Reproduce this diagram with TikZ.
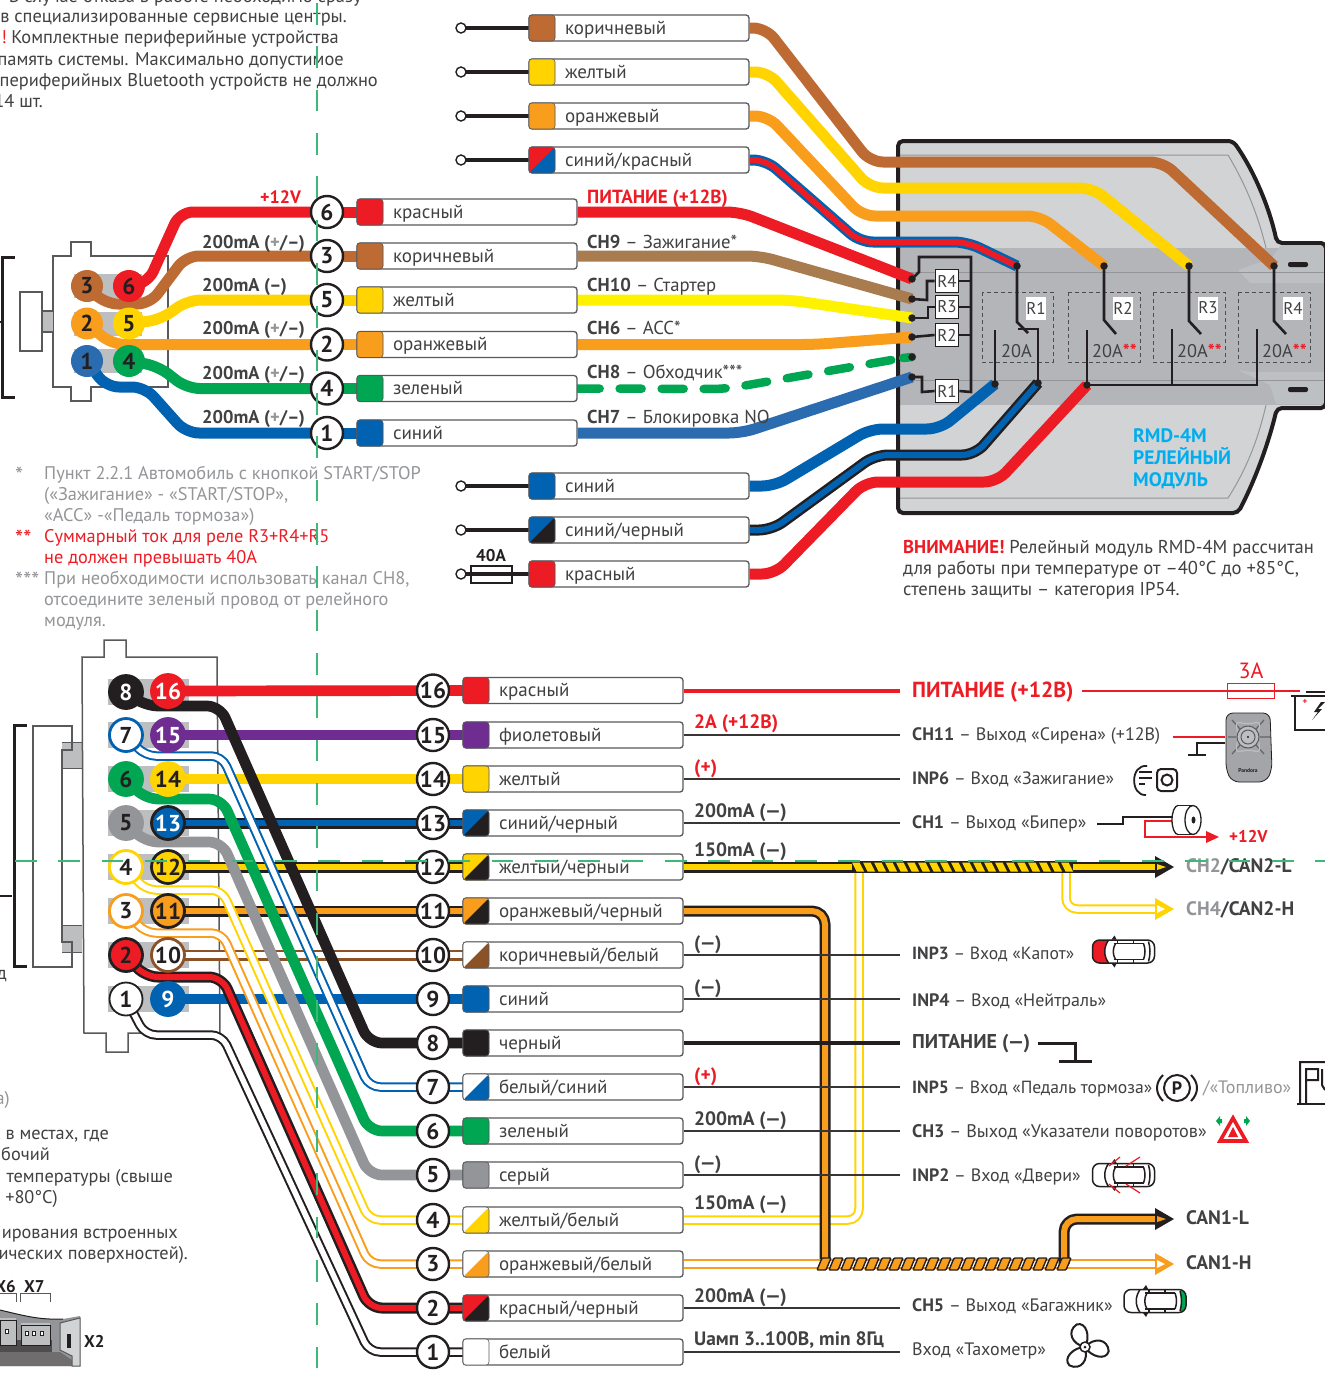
\documentclass[tikz,border=0pt]{standalone}
\usepackage{fontspec}
\setmainfont{PT Sans}
\usetikzlibrary{calc}
\pgfdeclarelayer{bg}\pgfdeclarelayer{wires}\pgfsetlayers{bg,wires,main}
\definecolor{cRed}{HTML}{ED1C24}\definecolor{cBrown}{HTML}{BD6A33}\definecolor{cYel}{HTML}{FFD400}
\definecolor{cOr}{HTML}{F99D1C}\definecolor{cBlue}{HTML}{0062B1}\definecolor{cGreen}{HTML}{00A651}
\definecolor{cPur}{HTML}{6F2C91}\definecolor{cGray}{HTML}{939598}\definecolor{cBlack}{HTML}{231F20}
\definecolor{cTan}{HTML}{A97C50}\definecolor{cBY}{HTML}{FFF200}\definecolor{cBlueL}{HTML}{2B6CB0}
\definecolor{cCyan}{HTML}{00AEEF}\definecolor{cBr}{HTML}{8B5228}\definecolor{cText}{HTML}{414042}
\definecolor{cEdge}{HTML}{58595B}\definecolor{cBody}{HTML}{D1D3D4}\definecolor{cBand}{HTML}{B3B5B8}
\definecolor{cPad}{HTML}{BCBEC0}\definecolor{cDash}{HTML}{3CB878}\definecolor{cWhite}{HTML}{FFFFFF}
\tikzset{
 x=1pt,y=-1pt,
 txt/.style={inner sep=0,font=\fontsize{18.3}{20}\selectfont,text=cText},
 bld/.style={font=\fontsize{#1}{20}\selectfont\bfseries},
 numc/.style={circle,draw=cBlack,fill=white,line width=2.4pt,minimum size=32pt,inner sep=0,font=\fontsize{23}{23}\selectfont\bfseries,text=cBlack},
 pinc/.style n args={3}{circle,draw=#2,fill=#1,text=#3,line width=2.8pt,minimum size=33pt,inner sep=0,font=\fontsize{23}{23}\selectfont\bfseries},
 smallpin/.style={minimum size=30pt,line width=2pt},
 lbox/.style={rectangle,rounded corners=3pt,draw=cEdge,fill=white,line width=1.3pt,minimum height=26pt,text width=220pt,inner xsep=0,inner ysep=0,align=flush left,text height=13pt,text depth=1pt,font=\fontsize{19}{20}\selectfont,text=cText},
 pad/.style 2 args={rectangle,rounded corners=3pt,draw=cEdge,line width=.6pt,fill=#1,minimum size=26pt,inner sep=0,path picture={\fill[#2] (path picture bounding box.south west)--(path picture bounding box.south east)--(path picture bounding box.north east)--cycle;}},
 w/.style={line width=10.7pt,draw=#1,rounded corners=13pt,line join=round},
 wn/.style={line width=11pt,draw=#1,rounded corners=13pt,line join=round},
 wd/.style 2 args={draw=#1,double=#2,line width=2.5pt,double distance=6pt,rounded corners=13pt,line join=round},
 wt/.style 2 args={draw=#1,double=#2,line width=2pt,double distance=5.5pt,rounded corners=11pt,line join=round},
 fine/.style={line width=2.6pt,draw=cBlack},
 dotn/.style={circle,fill=cBlack,minimum size=7.5pt,inner sep=0},
 rbox/.style={rectangle,draw=cBlack,fill=white,line width=1.8pt,minimum width=23pt,minimum height=23pt,inner sep=0,font=\fontsize{17}{17}\selectfont,text=cText},
 rtag/.style={rectangle,fill=white,minimum width=17pt,minimum height=23pt,inner sep=0,font=\fontsize{17}{17}\selectfont,text=cText},
 opn/.style={circle,draw=cBlack,fill=white,line width=1.4pt,minimum size=10pt,inner sep=0},
}
\newcommand\lbl[5][]{\node[txt,anchor=base west,#1] (#2) at ([yshift=-6pt]#3,#4) {#5};}
\newcommand\rbl[5][]{\node[txt,anchor=base east,#1] (#2) at ([yshift=-6pt]#3,#4) {#5};}
\newcommand\caricon[4]{\begin{scope}[shift={(#1,#2)},line width=1.5pt,draw=cBlack]
 \begin{scope}\clip[rounded corners=7pt] (-31,-11.5) rectangle (31,11.5);
  \fill[white] (-32,-12) rectangle (32,12);
  \fill[#3] (-32,-12) -- (-15,-12) .. controls (-20,-4) and (-20,4) .. (-15,12) -- (-32,12) -- cycle;
  \fill[#4] (25,-12) .. controls (27,-3) and (27,3) .. (25,12) -- (32,12) -- (32,-12) -- cycle;
 \end{scope}
 \draw[rounded corners=7pt] (-31,-11.5) rectangle (31,11.5);
 \draw (-15,-11.5) .. controls (-20,-4) and (-20,4) .. (-15,11.5);
 \draw (-10,-8) -- (20,-8) (-10,8) -- (20,8);
 \draw (-6,-11.5) -- (-6,-8) (-6,8) -- (-6,11.5) (10,-11.5) -- (10,-8) (10,8) -- (10,11.5);
 \draw (-8,-8) .. controls (-11,-3) and (-11,3) .. (-8,8);
 \draw (20,-8) .. controls (22,-3) and (22,3) .. (20,8);
 \draw (25,-10) .. controls (27,-3) and (27,3) .. (25,10);
 \fill[cBlack] (-12,-12)--(-9,-16)--(-7,-12)--cycle (-12,12)--(-9,16)--(-7,12)--cycle;
\end{scope}}
\begin{document}
\begin{tikzpicture}
\useasboundingbox (0,0) rectangle (1325,1379);
\clip (0,0) rectangle (1325,1379);
% ===== relay module body
\newcommand\modpath{[rounded corners=5pt] (898,141)--(1233,141) .. controls (1255,172) and (1270,210) .. (1277,243)--(1326,243)--(1326,408)--(1277,408) .. controls (1268,445) and (1255,480) .. (1238,513)--(898,513)--cycle}
\begin{pgfonlayer}{bg}
\fill[white] (0,0) rectangle (1325,1379);
\fill[cBody] \modpath;
\begin{scope}\clip \modpath;
 \fill[cBand] (898,248) rectangle (1330,405);
 \fill[cBody!35!cBand] (1238,270)--(1272,258)--(1280,246)--(1330,246)--(1330,283)--(1250,283)--cycle;
 \fill[cBody!35!cBand] (1238,370)--(1250,372)--(1330,372)--(1330,404)--(1276,404)--(1270,385)--cycle;
 \draw[cGray,line width=1pt] (898,155)--(1228,155) .. controls (1246,185) and (1258,215) .. (1266,248);
 \draw[cGray,line width=1pt] (898,498)--(1228,498) .. controls (1246,470) and (1258,440) .. (1266,405);
 \draw[cGray,line width=1pt] (905,272)--(1325,272);
 \draw[cGray,line width=1pt] (905,380)--(1325,380);
\end{scope}
\draw[cBlack,line width=4pt] \modpath;
\fill[cBlack,rounded corners=2pt] (1288,262) rectangle (1308,267) (1288,387) rectangle (1308,392);
\foreach \a/\b in {982/1053,1068/1140,1153/1225,1238/1310}
 \draw[cBlack!80,line width=1pt,dash pattern=on 4pt off 3pt] (\a,292) rectangle (\b,362);
% connector housings, under the wires
\foreach \py in {286,323.5,361}{\fill[cPad] (74,\py-12) rectangle (142,\py+12);}
\foreach \py in {692,735,779,823,867,911,955,999}{\fill[cPad] (108,\py-13) rectangle (189,\py+13);}
\fill[cPad] (62,742) rectangle (82,768) (62,925) rectangle (82,952);
\draw[cEdge,line width=1pt] (62,742)--(82,742) (62,768)--(82,768) (62,925)--(82,925) (62,952)--(82,952);
\draw[cEdge,line width=1.5pt] (53,256)--(71,256)--(71,242)--(91,242)--(91,256)--(168,256)--(168,387)--(91,387)--(91,401)--(71,401)--(71,387)--(53,387)--cycle;
\draw[cEdge,line width=1.5pt] (217,657)--(126,657)--(126,640)--(104,640)--(104,657)--(82,657)--(84,1033)--(106,1033)--(106,1052)--(128,1052)--(128,1033)--(220,1033)--cycle;
\end{pgfonlayer}
% ===== top connector
\draw[cBlack,line width=3pt] (15,257)--(2,257)--(2,397)--(15,397);
\draw[cBlack,line width=2pt] (0,322)--(2,322);
\fill[cPad] (42,311) rectangle (53,332);
\draw[cEdge,line width=1.3pt] (42,311)--(53,311) (42,332)--(53,332);
\draw[cEdge,line width=1.5pt] (20,292) rectangle (42,351);
\node[pinc={cBrown}{cBrown}{cBlack},smallpin] (p3) at (87,286) {3};
\node[pinc={cRed}{cRed}{cBlack},smallpin] (p6) at (129,286) {6};
\node[pinc={cOr}{cOr}{cBlack},smallpin] (p2) at (87,323.5) {2};
\node[pinc={cYel}{cYel}{cBlack},smallpin] (p5) at (129,323.5) {5};
\node[pinc={cBlueL}{cBlueL}{cBlack},smallpin] (p1) at (87,361) {1};
\node[pinc={cGreen}{cGreen}{cBlack},smallpin] (p4) at (129,361) {4};
\foreach \n/\y/\tx/\ca in {6/212/красный/cRed,3/256/коричневый/cBrown,5/300/желтый/cYel,2/344.5/оранжевый/cOr,4/388.5/зеленый/cGreen,1/433/синий/cBlue}{
 \node[numc] (n\n) at (327,\y) {\n};
 \node[lbox] (l\n) at (467,\y) {\hspace*{36pt}\tx};
 \node[pad={\ca}{\ca}] (q\n) at (370,\y) {};
}
\foreach \k/\y/\tx/\ca/\cb in {a/28/коричневый/cBrown/cBrown,b/72/желтый/cYel/cYel,c/116/оранжевый/cOr/cOr,d/160/{синий/красный}/cRed/cBlue,e/486/синий/cBlue/cBlue,f/530/{синий/черный}/cBlue/cBlack,g/574/красный/cRed/cRed}{
 \node[lbox] (m\k) at (639,\y) {\hspace*{36pt}\tx};
 \node[pad={\ca}{\cb}] (r\k) at (542,\y) {};
 \node[opn] (o\k) at (461,\y) {};
}
\node[dotn] (t1) at (912,279) {};\node[dotn] (t2) at (912,299) {};\node[dotn] (t3) at (912,318) {};
\node[dotn] (t4) at (912,337) {};\node[dotn] (t5) at (912,357) {};\node[dotn] (t6) at (912,377) {};
\node[dotn] (c1) at (1017,266) {};\node[dotn] (c2) at (1104,266) {};\node[dotn] (c3) at (1189,266) {};\node[dotn] (c4) at (1274,266) {};
\node[dotn] (d1) at (995,384) {};\node[dotn] (d2) at (1038,383) {};\node[dotn] (d3) at (1087,385) {};
\coordinate (bj) at (1172,385);\coordinate (bk) at (1257,385);\coordinate (gs) at (903,358);
\node[rbox] (R4) at (947,281) {R4};\node[rbox] (R3) at (947,307) {R3};\node[rbox] (R2) at (947,335) {R2};\node[rbox] (R1) at (947,391) {R1};
\begin{pgfonlayer}{wires}
\draw[wn=cRed] (n6.center)--(q6.center);\draw[wn=cBrown] (n3.center)--(q3.center);\draw[wn=cYel] (n5.center)--(q5.center);
\draw[wn=cOr] (n2.center)--(q2.center);\draw[wn=cGreen] (n4.center)--(q4.center);\draw[wn=cBlue] (n1.center)--(q1.center);
\draw[wn=cRed] (p6.center)--(148,283)--(180,212)--(n6.center);
\draw[wn=cOr] (p2.center)--(112,344.5)--(n2.center);
\draw[wn=cBrown] (p3.center)--(105,304)--(150,304)--(186,256)--(n3.center);
\draw[wn=cYel] (p5.center)--(160,320)--(188,300)--(n5.center);
\draw[wn=cGreen] (p4.center)--(158,366)--(187,388.5)--(n4.center);
\draw[wn=cBlue] (p1.center)--(106,387)--(145,387)--(186,433)--(n1.center);
\draw[wn=cRed] (l6.east)--(740,212)--(t1.center);
\draw[wn=cTan] (l3.east)--(760,256)--(t2.center);
\draw[wn=cBY] (l5.east)--(790,300)--(t3.center);
\draw[wn=cOr] (l2.east)--(815,344.5)--(t4.center);
\draw[line width=8.5pt,cGreen,rounded corners=13pt,line cap=round,dash pattern=on 22pt off 20pt] (l4.east)--(725,389)--(gs);
\draw[line width=8.5pt,cGreen,line cap=round] (gs)--(t5.center);
\draw[wn=cBlueL] (l1.east)--(742,433)--(t6.center);
\draw[wn=cBrown] (ma.east)--(766,28)--(870,162)--(1163,162)--(c4.center);
\draw[wn=cYel] (mb.east)--(768,72)--(870,188)--(1093,188)--(c3.center);
\draw[wn=cOr] (mc.east)--(768,116)--(862,216)--(1040,216)--(c2.center);
\draw[wd={cBlue}{cRed}] (md.east)--(766,160)--(860,242)--(967,242)--(c1.center);
\draw[wn=cBlue] (me.east)--(775,486)--(870,429)--(940,429)--(d1.center);
\draw[wd={cBlack}{cBlue}] (mf.east)--(772,530)--(875,455)--(975,455)--(d2.center);
\draw[wn=cRed] (mg.east)--(775,574)--(865,482)--(997,482)--(d3.center);
\foreach \k in {a,b,c,d,e,f,g}{\draw[line width=4pt,cBlack] (o\k.center)--(r\k.center);}
\end{pgfonlayer}
% relay internal wiring
\draw[fine,line join=miter] (t1.center)--(919,272)--(919,257)--(971,257)--(971,392)--(R1.east);
\draw[fine] (R4.east)--(971,281) (R3.east)--(971,307) (R2.east)--(971,335);
\draw[fine] (t2.center)--(927,300)--(927,281)--(R4.west);
\draw[fine] (t3.center)--(928,318)--(928,307)--(R3.west);
\draw[fine] (t4.center)--(R2.west);
\draw[fine] (t6.center)--(922,377)--(922,392)--(R1.west);
\draw[fine] (c1.center)--(1017,322)--(1028,333);
\draw[fine] (1018,329)--(1038,329)--(d2.center);
\draw[fine] (995,330)--(d1.center);
\draw[fine] (c2.center)--(1104,320)--(1116,334);
\draw[fine] (c3.center)--(1189,321)--(1201,334);
\draw[fine] (c4.center)--(1274,321)--(1286,334);
\draw[fine] (1087,330)--(d3.center)--(bk)--(1257,329);
\draw[fine] (1172,329)--(bj);
\node[rtag] (T1) at (1036,308) {R1};\node[rtag] (T2) at (1123,308) {R2};\node[rtag] (T3) at (1208,308) {R3};\node[rtag] (T4) at (1293,308) {R4};
\lbl{A1}{1001}{351}{20A}
\lbl{A2}{1092}{351}{20A\textcolor{cRed}{\textbf{**}}}
\lbl{A3}{1177}{351}{20A\textcolor{cRed}{\textbf{**}}}
\lbl{A4}{1262}{351}{20A\textcolor{cRed}{\textbf{**}}}
\lbl[bld=19.5,text=cCyan]{M1}{1133}{436}{RMD-4M}
\lbl[bld=19.5,text=cCyan]{M2}{1133}{458}{РЕЛЕЙНЫЙ}
\lbl[bld=19.5,text=cCyan]{M3}{1133}{480}{МОДУЛЬ}
\lbl[font=\fontsize{18.6}{20}\selectfont]{W1}{903}{547}{\textcolor{cRed}{\textbf{ВНИМАНИЕ!}} Релейный модуль RMD-4M рассчитан}
\lbl[font=\fontsize{18.6}{20}\selectfont]{W2}{903}{568}{для работы при температуре от –40°С до +85°С,}
\lbl[font=\fontsize{18.6}{20}\selectfont]{W3}{903}{589}{степень защиты – категория IP54.}
\node[rectangle,draw=cBlack,line width=2pt,fill=none,minimum width=41pt,minimum height=17pt,inner sep=0] (f40) at (491,574) {};
\lbl[bld=17,text=cBlack,anchor=base]{f40t}{491}{555}{40A}
\lbl[bld=18,text=cRed]{L6}{260}{197}{+12V}
\foreach \k/\y/\tx in {3/242/{(\textcolor{cGray}{+}/–)},5/285/{(–)},2/328/{(\textcolor{cGray}{+}/–)},4/373/{(\textcolor{cGray}{+}/–)},1/417/{(\textcolor{cGray}{+}/–)}}{
 \lbl[bld=18.4]{LL\k}{202}{\y}{200mA \tx}
}
\lbl[bld=19,text=cRed]{C0}{587}{197}{ПИТАНИЕ (+12В)}
\lbl[font=\fontsize{18.7}{20}\selectfont]{C1}{587}{242}{\textbf{CH9} – Зажигание*}
\lbl[font=\fontsize{18.7}{20}\selectfont]{C2}{587}{285}{\textbf{CH10} – Стартер}
\lbl[font=\fontsize{18.7}{20}\selectfont]{C3}{587}{328}{\textbf{CH6} – ACC*}
\lbl[font=\fontsize{18.7}{20}\selectfont]{C4}{587}{372}{\textbf{CH8} – Обходчик***}
\lbl[font=\fontsize{18.7}{20}\selectfont]{C5}{587}{417}{\textbf{CH7} – Блокировка NO}
\rbl[font=\fontsize{18.4}{20}\selectfont]{a0}{362}{-4}{В случае отказа в работе необходимо сразу}
\rbl[font=\fontsize{18.4}{20}\selectfont]{a1}{347}{16}{в специализированные сервисные центры.}
\rbl[font=\fontsize{18.4}{20}\selectfont]{a2}{339}{37}{\textcolor{cRed}{!}\hspace{-.12em} Комплектные периферийные устройства}
\rbl[font=\fontsize{18.4}{20}\selectfont]{a3}{344}{59}{память системы. Максимально допустимое}
\rbl[font=\fontsize{18.4}{20}\selectfont]{a4}{378}{80}{периферийных Bluetooth устройств не должно}
\rbl[font=\fontsize{18.4}{20}\selectfont]{a5}{43}{101}{14 шт.}
\lbl[text=cGray,font=\fontsize{23}{20}\selectfont]{s1}{15}{477}{*}
\lbl[text=cGray]{b1}{44}{473}{Пункт 2.2.1 Автомобиль с кнопкой START/STOP}
\lbl[text=cGray]{b2}{44}{494}{(«Зажигание» - «START/STOP»,}
\lbl[text=cGray]{b3}{44}{515}{«АСС» -«Педаль тормоза»)}
\lbl[text=cRed,font=\fontsize{23}{20}\selectfont]{s2}{15}{540}{**}
\lbl[text=cRed]{b4}{44}{536}{Суммарный ток для реле R3+R4+R5}
\lbl[text=cRed]{b5}{44}{557}{не должен превышать 40А}
\lbl[text=cGray,font=\fontsize{23}{20}\selectfont]{s3}{15}{582}{***}
\lbl[text=cGray]{b6}{44}{578}{При необходимости использовать канал CH8,}
\lbl[text=cGray]{b7}{44}{599}{отсоедините зеленый провод от релейного}
\lbl[text=cGray]{b8}{44}{620}{модуля.}
% ===== bottom connector
\draw[cEdge,line width=1.5pt] (72,750)--(72,726)--(33,726)--(33,967)--(72,967)--(72,942)--(62,942)--(62,750)--cycle;
\draw[cBlack,line width=3pt] (27,725)--(14,725)--(14,966)--(27,966);
\draw[cBlack,line width=2pt] (0,896)--(12,896);
\rbl{dd}{7}{973}{д}
\node[pinc={cBlack}{cBlack}{white}] (P8) at (126,692) {8};
\node[pinc={cRed}{cRed}{white}] (P16) at (168,691) {16};
\node[pinc={white}{cBlue}{cBlack}] (P7) at (126,735) {7};
\node[pinc={cPur}{cPur}{white}] (P15) at (168,735) {15};
\node[pinc={cGreen}{cGreen}{cBlack}] (P6) at (126,779) {6};
\node[pinc={cYel}{cYel}{cBlack}] (P14) at (168,779) {14};
\node[pinc={cGray}{cGray}{cBlack}] (P5) at (126,823) {5};
\node[pinc={cBlue}{cBlack}{white}] (P13) at (168,823) {13};
\node[pinc={white}{cYel}{cBlack}] (P4) at (126,867) {4};
\node[pinc={cYel}{cBlack}{cBlack}] (P12) at (168,867) {12};
\node[pinc={white}{cOr}{cBlack}] (P3) at (126,911) {3};
\node[pinc={cOr}{cBlack}{cBlack}] (P11) at (168,911) {11};
\node[pinc={cRed}{cBlack}{cBlack}] (P2) at (126,955) {2};
\node[pinc={white}{cBr}{cBlack}] (P10) at (168,955) {10};
\node[pinc={white}{cBlack}{cBlack},line width=1.8pt] (P1) at (126,999) {1};
\node[pinc={cBlue}{cBlue}{white}] (P9) at (168,999) {9};
\foreach \n/\y/\tx/\ca/\cb in {16/690.5/красный/cRed/cRed,15/735/фиолетовый/cPur/cPur,14/779/желтый/cYel/cYel,13/823/{синий/черный}/cBlue/cBlack,12/867/{желтый/черный}/cYel/cBlack,11/911/{оранжевый/черный}/cOr/cBlack,10/955/{коричневый/белый}/white/cBr,9/999/синий/cBlue/cBlue,8/1043/черный/cBlack/cBlack,7/1087/{белый/синий}/white/cBlue,6/1131/зеленый/cGreen/cGreen,5/1175/серый/cGray/cGray,4/1220/{желтый/белый}/white/cYel,3/1264/{оранжевый/белый}/white/cOr,2/1308/{красный/черный}/cRed/cBlack,1/1352/белый/white/white}{
 \node[numc] (N\n) at (433,\y) {\n};
 \node[lbox] (B\n) at (573,\y) {\hspace*{36pt}\tx};
 \node[pad={\ca}{\cb}] (Q\n) at (476,\y) {};
}
\coordinate (e16) at (900,690.5);\coordinate (e15) at (900,735);\coordinate (e14) at (900,779);\coordinate (e13) at (900,823);
\coordinate (e10) at (900,955);\coordinate (e9) at (900,999);\coordinate (e8) at (900,1043);\coordinate (e7) at (900,1087);
\coordinate (e6) at (900,1131);\coordinate (e5) at (900,1175);\coordinate (e2) at (900,1308);\coordinate (e1) at (900,1352);
\coordinate (hCH2) at (1157,867);\coordinate (hCH4) at (1157,909);\coordinate (hL) at (1157,1219);\coordinate (hH) at (1157,1264);
\begin{pgfonlayer}{wires}
\draw[w=cRed] (P16.center)--(Q16.center);
\draw[w=cPur] (P15.center)--(Q15.center);
\draw[w=cYel] (P14.center)--(Q14.center);
\draw[wd={cBlack}{cBlue}] (P13.center)--(Q13.center);
\draw[wd={cBlack}{cYel}] (P12.center)--(Q12.center);
\draw[wd={cBlack}{cOr}] (P11.center)--(Q11.center);
\draw[wd={cBr}{white}] (P10.center)--(Q10.center);
\draw[w=cBlue] (P9.center)--(Q9.center);
\draw[wt={cBlack}{white}] (P1.center)--(145,1035)--(222,1035)--(369,1352)--(Q1.center);
\draw[wd={cBlack}{cRed}] (P2.center)--(145,977)--(222,977)--(369,1308)--(Q2.center);
\draw[wt={cOr}{white}] (P3.center)--(145,933)--(222,933)--(369,1264)--(Q3.center);
\draw[wt={cYel}{white}] (P4.center)--(145,890)--(222,890)--(369,1220)--(Q4.center);
\draw[w=cGray] (P5.center)--(145,842)--(222,842)--(369,1175)--(Q5.center);
\draw[w=cGreen] (P6.center)--(145,799)--(222,799)--(369,1131)--(Q6.center);
\draw[wt={cBlue}{white}] (P7.center)--(145,756)--(222,756)--(369,1087)--(Q7.center);
\draw[w=cBlack] (P8.center)--(145,706)--(220,706)--(369,1043)--(Q8.center);
\draw[wt={cYel}{white}] (B4.east)--(859,1220)--(859,872);
\draw[wd={cBlack}{cOr}] (B11.east)--(825,911)--(825,1264);
\draw[wt={cYel}{white}] (1066,872)--(1066,909)--(hCH4);
\draw[wt={cOr}{white}] (B3.east)--(hH);
\draw[wd={cBlack}{cYel}] (B12.east)--(hCH2);
\draw[wd={cBlack}{cOr}] (1064,1264)--(1064,1219)--(hL);
\draw[cRed,line width=4pt] (B16.east)--(e16);
\foreach \n in {15,14,13,10,9,7,6,5,2,1}{\draw[cBlack!90,line width=2.6pt] (B\n.east)--(e\n);}
\draw[cBlack,line width=4pt] (B8.east)--(e8);
\end{pgfonlayer}
% twists
\fill[cBlack] (852,861) rectangle (1073,873);
\foreach \i in {0,...,19}{\fill[cYel] ({852+11*\i},862.5)--({859.5+11*\i},862.5)--({864+11*\i},871.5)--({856.5+11*\i},871.5)--cycle;}
\foreach \i in {0,...,20}{\fill[cOr,draw=cBlack,line width=1.4pt,rounded corners=1pt] ({817+12*\i},1270)--({822+12*\i},1258)--({831+12*\i},1258)--({826+12*\i},1270)--cycle;}
% arrow heads
\fill[cBlack] (1155,856)--(1174,867)--(1155,878)--cycle;\fill[cYel] (1157,864)--(1166,867)--(1157,870)--cycle;
\fill[cYel] (1155,898)--(1174,909)--(1155,920)--cycle;\fill[white] (1157,905)--(1165,909)--(1157,913)--cycle;
\fill[cBlack] (1155,1208)--(1174,1219)--(1155,1230)--cycle;\fill[cOr] (1157,1216)--(1166,1219)--(1157,1222)--cycle;
\fill[cOr] (1155,1253)--(1174,1264)--(1155,1275)--cycle;\fill[white] (1157,1260)--(1165,1264)--(1157,1268)--cycle;
% bottom labels
\lbl[bld=21.8,text=cRed]{R0}{912}{691}{ПИТАНИЕ (+12В)}
\coordinate (rs) at (1082,691);\coordinate (bat) at (1300,691);
\draw[cRed,line width=2.6pt] (rs)--(bat);
\node[rectangle,draw=cRed,line width=1.8pt,minimum width=47pt,minimum height=15pt,inner sep=0] (f3) at (1251,691) {};
\lbl[font=\fontsize{22}{22}\selectfont,text=cRed,anchor=base]{f3t}{1251}{672}{3А}
\lbl[font=\fontsize{18}{20}\selectfont]{R1t}{912}{734}{\textbf{CH11} – Выход «Сирена» (+12В)}
\lbl[font=\fontsize{17.8}{20}\selectfont]{R2t}{912}{778}{\textbf{INP6} – Вход «Зажигание»}
\lbl[font=\fontsize{18}{20}\selectfont]{R3t}{912}{822}{\textbf{CH1} – Выход «Бипер»}
\lbl[font=\fontsize{17.6}{20}\selectfont]{R4t}{912}{953}{\textbf{INP3} – Вход «Капот»}
\lbl[font=\fontsize{18}{20}\selectfont]{R5t}{912}{1000}{\textbf{INP4} – Вход «Нейтраль»}
\lbl[bld=20]{R6t}{912}{1042}{ПИТАНИЕ (—)}
\lbl[font=\fontsize{17.6}{20}\selectfont]{R7t}{912}{1087}{\textbf{INP5} – Вход «Педаль тормоза»}
\lbl[text=cGray,font=\fontsize{18}{20}\selectfont]{R7g}{1203}{1087}{/«Топливо»}
\lbl[font=\fontsize{18.2}{20}\selectfont]{R8t}{912}{1131}{\textbf{CH3} – Выход «Указатели поворотов»}
\lbl[font=\fontsize{17.9}{20}\selectfont]{R9t}{912}{1175}{\textbf{INP2} – Вход «Двери»}
\lbl[font=\fontsize{18}{20}\selectfont]{R10t}{912}{1305}{\textbf{CH5} – Выход «Багажник»}
\lbl[font=\fontsize{18}{20}\selectfont]{R11t}{912}{1349}{Вход «Тахометр»}
\lbl[bld=19.5]{cn1}{1186}{866}{\textcolor{cGray}{CH2}/CAN2-L}
\lbl[bld=19.5]{cn2}{1186}{909}{\textcolor{cGray}{CH4}/CAN2-H}
\lbl[bld=19.5]{cn3}{1186}{1218}{CAN1-L}
\lbl[bld=19.5]{cn4}{1186}{1263}{CAN1-H}
\foreach \k/\y/\tx/\cc in {a/722/{2A (+12В)}/cRed,b/767/{(+)}/cRed,c/811/{200mA (—)}/cText,d/850/{150mA (—)}/cText,e/943/{(—)}/cText,f/987/{(—)}/cText,g/1075/{(+)}/cRed,h/1119/{200mA (—)}/cText,i/1163/{(—)}/cText,j/1203/{150mA (—)}/cText,k/1296/{200mA (—)}/cText,l/1339/{Uамп 3..100В, min 8Гц}/cText}{
 \lbl[bld=19.4,text=\cc]{V\k}{694}{\y}{\tx}
}
% ground for power
\coordinate (g0) at (1038,1043);\coordinate (g1) at (1075,1043);\coordinate (g2) at (1075,1061);
\draw[cBlack,line width=3pt] (g0)--(g1)--(g2);\draw[cBlack,line width=3pt] (1059,1061)--(1092,1061);
% battery
\draw[cBlack,line width=1.8pt] (1325,696)--(1295,696)--(1295,730)--(1325,730);
\draw[cBlack,line width=1.5pt] (1291,696)--(1297,696) (1306,692)--(1325,692);
\node[inner sep=0,font=\fontsize{9}{9}\selectfont\bfseries,text=cRed] (bp) at (1305,702) {+};
\fill[cBlack] (1321,702)--(1314,712)--(1318,712)--(1312,720)--(1322,709)--(1318,709)--(1325,702)--cycle;
% siren
\draw[cRed,line width=2pt] (1173,737)--(1225,737);
\draw[cBlack,line width=2pt] (1225,743)--(1197,743)--(1197,755) (1188,755)--(1206,755);
\fill[cGray!85,draw=cBlack,line width=.8pt,rounded corners=7pt] (1226,713)--(1270,713)--(1272,770)--(1266,782)--(1232,782)--(1226,770)--cycle;
\draw[cBlack!70,line width=1.2pt] (1228,737)--(1236,737) (1260,737)--(1270,737) (1232,720)--(1240,729) (1264,720)--(1256,729) (1232,754)--(1240,745) (1264,754)--(1256,745);
\draw[cPad,line width=1.2pt,rounded corners=3pt] (1236,722)--(1248,724)--(1260,722)--(1258,737)--(1260,752)--(1248,750)--(1236,752)--(1238,737)--cycle;
\draw[cEdge,line width=1pt,fill=cPad] (1248,737) circle (11);
\draw[cEdge,line width=1pt] (1248,737) circle (7);
\fill[cBlack] (1248,737) circle (1.2);
\node[inner sep=0,font=\fontsize{5.5}{6}\selectfont\bfseries,text=cBlack] (sp) at (1248,771) {Pandora};
% ignition icon
\draw[cBlack,line width=1.8pt] (1147,766) .. controls (1130,764) and (1130,796) .. (1146,795);
\draw[cBlack,line width=1.8pt] (1139,772)--(1152,772) (1139,778)--(1152,778) (1139,784)--(1145,784);
\draw[cBlack,line width=2pt,rounded corners=4pt] (1157,769) rectangle (1177,791);
\draw[cBlack,line width=2pt] (1167,780) circle (5.5);
% beeper
\draw[cBlack,line width=2.4pt] (1097,824)--(1123,824)--(1123,817)--(1173,817);
\draw[cRed,line width=2pt] (1173,821)--(1145,821)--(1145,837)--(1208,837);
\fill[cRed] (1206,831)--(1219,837)--(1206,843)--cycle;
\fill[white] (1178,805.5) rectangle (1193,834.5);
\draw[cBlack,line width=1.3pt,fill=white] (1178,820) ellipse (6 and 14.5);
\fill[white] (1178,806.2) rectangle (1193,833.8);
\draw[cBlack,line width=1.3pt] (1178,805.5)--(1193,805.5) (1178,834.5)--(1193,834.5);
\draw[cBlack,line width=1.3pt,fill=white] (1193,820) ellipse (8 and 14.5);
\fill[cBlack] (1193.5,820) ellipse (2 and 3.5);
\lbl[bld=17,text=cRed]{v12}{1229}{836}{+12V}
% cars
\caricon{1123.5}{951.5}{cRed}{white}
\caricon{1123.5}{1175}{white}{white}
\caricon{1155}{1301}{white}{cGreen}
\draw[cRed,line width=1.2pt] (1109,1166)--(1120,1157) (1126,1166)--(1140,1157) (1109,1184)--(1120,1193) (1126,1184)--(1140,1193);
% brake icon
\draw[cBlack,line width=2pt] (1177,1088) circle (13);
\node[inner sep=0,font=\fontsize{18}{18}\selectfont\bfseries,text=cBlack] (pp) at (1177,1088) {P};
\draw[cBlack,line width=2pt] (1163,1075) .. controls (1155,1083) and (1155,1093) .. (1163,1101) (1191,1075) .. controls (1199,1083) and (1199,1093) .. (1191,1101);
% fuel
\draw[cBlack,line width=2pt] (1300,1103)--(1300,1062)--(1325,1062) (1306,1103)--(1306,1069)--(1318,1069)--(1318,1080)--(1306,1080) (1322,1069)--(1322,1085)--(1325,1090);
\draw[cBlack,line width=2pt] (1297,1104)--(1325,1104);
% hazard
\draw[cRed,line width=3.6pt,line join=miter] (1233,1118)--(1246,1141)--(1220,1141)--cycle;
\fill[cRed] (1233,1127)--(1238,1137)--(1228,1137)--cycle;
\fill[cGreen] (1216,1121)--(1220,1116)--(1220,1126)--cycle (1222,1119) rectangle (1220,1123) (1250,1121)--(1246,1116)--(1246,1126)--cycle (1244,1119) rectangle (1246,1123);
% fan
\begin{scope}[shift={(1085,1347)}]
\foreach \r in {15,135,255}{\draw[cBlack,line width=2pt,fill=white,rotate=\r] (0,0) .. controls (-12,-6) and (-14,-20) .. (-2,-24) .. controls (8,-24) and (8,-8) .. (0,0);}
\draw[cBlack,line width=1.5pt,fill=white] (0,0) circle (5);
\fill[cBlack] (0,0) circle (1.5);
\end{scope}
% bottom-left text
\rbl[text=cGray]{z0}{10}{1098}{а)}
\rbl{z1}{109}{1133}{к в местах, где}
\rbl{z2}{50}{1154}{бочий}
\rbl{z3}{173}{1176}{температуры (свыше}
\rbl{z4}{58}{1197}{е +80°С)}
\rbl{z5}{178}{1232}{ирования встроенных}
\rbl{z6}{188}{1253}{ических поверхностей).}
\rbl[bld=17,text=cBlack]{X6}{16}{1286}{X6}
\lbl[bld=17,text=cBlack]{X7}{24}{1286}{X7}
\draw[cEdge,line width=1pt] (0,1293)--(16,1293)--(16,1302) (20,1302)--(20,1293)--(50,1293)--(50,1302);
\lbl[bld=17,text=cBlack]{X2}{84}{1341}{X2}
% device
\fill[cGray] (0,1310) .. controls (25,1316) and (40,1320) .. (63,1319)--(80,1316)--(80,1366)--(0,1366)--cycle;
\fill[cBlack!80] (0,1340) rectangle (52,1352);
\fill[cBlack!65] (0,1352)--(60,1352)--(72,1360)--(72,1366)--(0,1366)--cycle;
\draw[cBlack,line width=1pt] (0,1310) .. controls (25,1316) and (40,1320) .. (63,1319);
\fill[cPad] (0,1318) rectangle (16,1345);
\fill[cPad] (21,1323) rectangle (50,1345);
\draw[cBlack,line width=1pt] (0,1320) rectangle (16,1345) (21,1325) rectangle (50,1345);
\foreach \qx in {25,32,40}{\draw[cBlack,line width=1pt,fill=white] (\qx,1331) rectangle (\qx+3,1335);}
\draw[cBlack,line width=1pt,fill=white] (5,1329) rectangle (8,1333);
\fill[cBody,draw=cEdge,line width=1pt] (60,1323)--(80,1318)--(80,1366)--(72,1366)--(72,1356)--(60,1350)--cycle;
\fill[cBlack] (67,1334) rectangle (71,1348);
% dashed fold lines
\coordinate (fv0) at (317,3);\coordinate (fv1) at (317,1370);\coordinate (fh0) at (15,861);\coordinate (fh1) at (1325,861);
\draw[cDash,line width=1.2pt,dash pattern=on 21.67pt off 21.67pt] (fv0)--(fv1);
\draw[cDash,line width=1.2pt,dash pattern=on 21.67pt off 21.67pt] (fh0)--(fh1);
\end{tikzpicture}
\end{document}
